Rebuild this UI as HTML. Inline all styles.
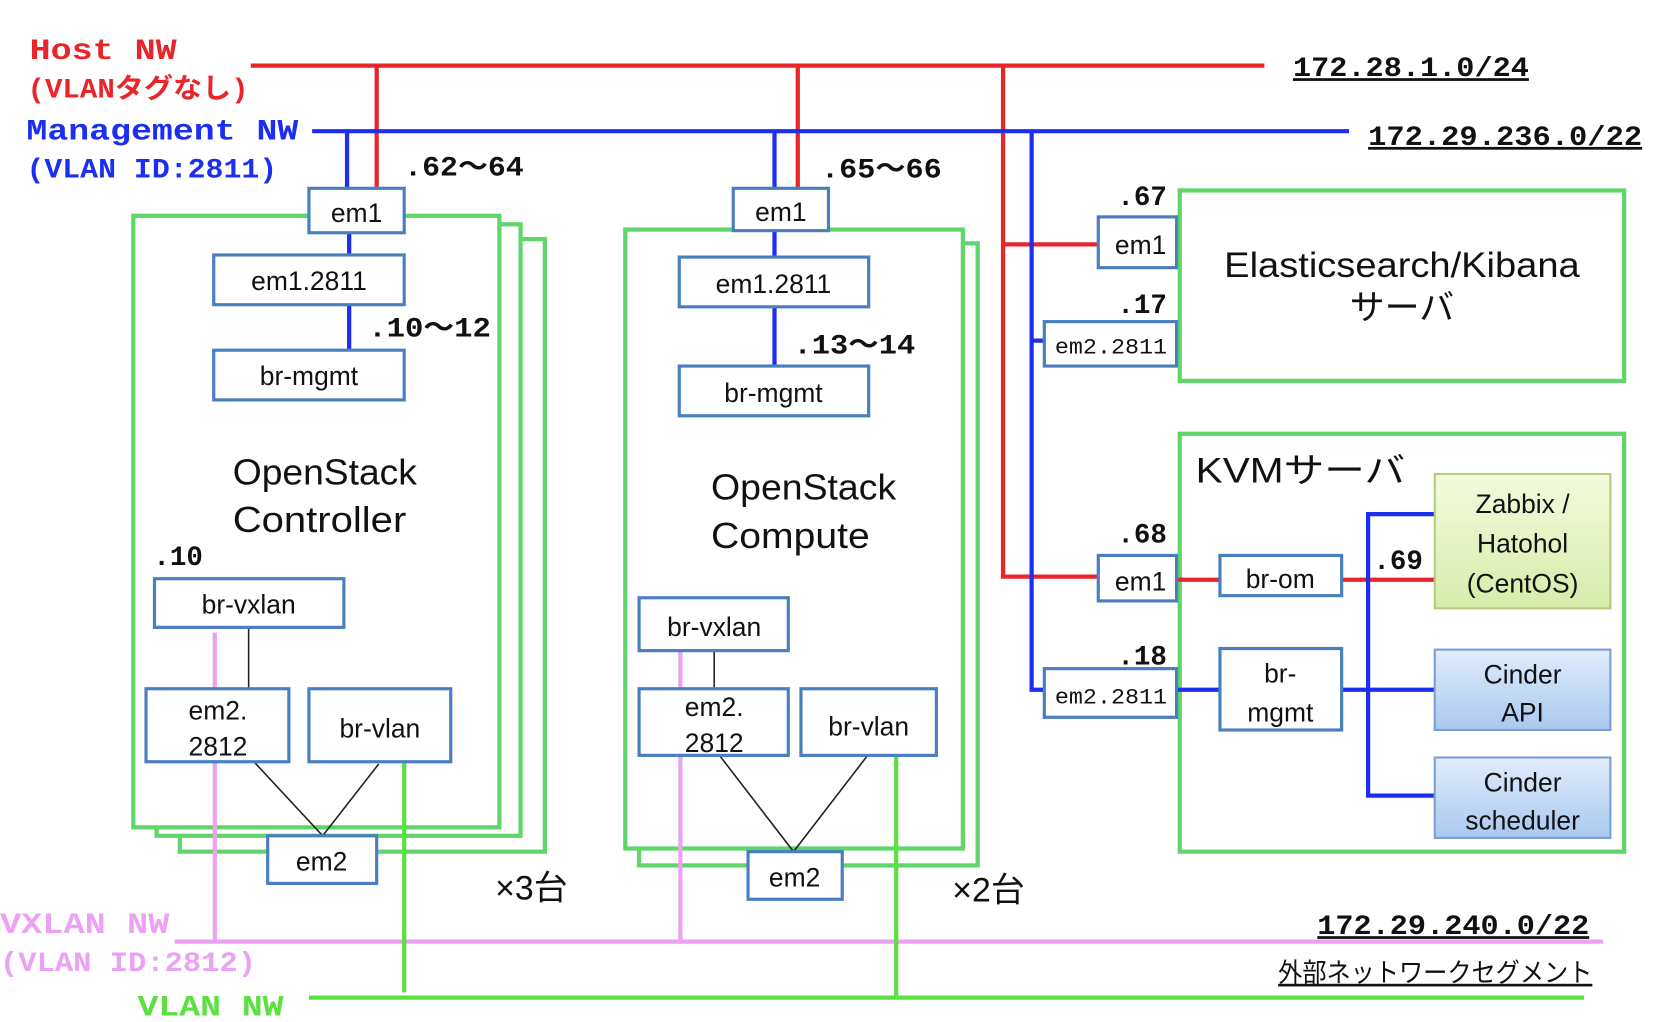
<!DOCTYPE html>
<html><head><meta charset="utf-8"><style>
html,body{margin:0;padding:0;background:#fff;}
svg{display:block;}
text{font-family:"Liberation Sans","Noto Sans CJK JP",sans-serif;}
.m{font-family:"Liberation Mono","Noto Sans CJK JP",monospace;font-weight:bold;}
.n{fill:#fff;stroke:#4a7fbf;stroke-width:3;}
.g{fill:#fff;stroke:#5fd66a;stroke-width:4;}
.lb{font-size:25px;fill:#111;text-anchor:middle;}
</style></head><body>
<svg width="1658" height="1022" viewBox="0 0 1567 966" preserveAspectRatio="none" xmlns="http://www.w3.org/2000/svg">
<defs>
<linearGradient id="gz" x1="0" y1="0" x2="0" y2="1"><stop offset="0" stop-color="#f4fadc"/><stop offset="1" stop-color="#d6ecaa"/></linearGradient>
<linearGradient id="gb" x1="0" y1="0" x2="0" y2="1"><stop offset="0" stop-color="#e2ecfa"/><stop offset="1" stop-color="#a9c8f0"/></linearGradient>
</defs>
<!-- network labels -->
<text class="m" x="28" y="56" font-size="28" fill="#e8262a" textLength="139" lengthAdjust="spacingAndGlyphs">Host NW</text>
<text class="m" x="26" y="92" font-size="26" fill="#e8262a" textLength="209" lengthAdjust="spacingAndGlyphs">(VLANタグなし)</text>
<text class="m" x="25" y="132" font-size="28" fill="#1c2ef0" textLength="257" lengthAdjust="spacingAndGlyphs">Management NW</text>
<text class="m" x="25" y="168" font-size="26" fill="#1c2ef0" textLength="237" lengthAdjust="spacingAndGlyphs">(VLAN ID:2811)</text>
<text class="m" x="0" y="882" font-size="28" fill="#eba2f2" textLength="160" lengthAdjust="spacingAndGlyphs">VXLAN NW</text>
<text class="m" x="0" y="918" font-size="26" fill="#eba2f2" textLength="242" lengthAdjust="spacingAndGlyphs">(VLAN ID:2812)</text>
<text class="m" x="130" y="960" font-size="28" fill="#5ce040" textLength="138" lengthAdjust="spacingAndGlyphs">VLAN NW</text>
<text class="m" x="1222" y="72" font-size="26" fill="#111" text-decoration="underline" textLength="223" lengthAdjust="spacingAndGlyphs">172.28.1.0/24</text>
<text class="m" x="1293" y="137" font-size="26" fill="#111" text-decoration="underline" textLength="259" lengthAdjust="spacingAndGlyphs">172.29.236.0/22</text>
<text class="m" x="1245" y="883" font-size="26" fill="#111" text-decoration="underline" textLength="257" lengthAdjust="spacingAndGlyphs">172.29.240.0/22</text>
<text x="1208" y="928" font-size="25" fill="#111" text-decoration="underline" textLength="297" lengthAdjust="spacingAndGlyphs">外部ネットワークセグメント</text>

<!-- main lines -->
<g stroke-width="4" fill="none">
<path d="M237 62H1195M356 62V178M754 62V178M948 62V545H1038M948 231H1038" stroke="#e8262a"/>
<path d="M295 124H1275M328 124V178M732 124V178M975 124V652H987M975 322H987" stroke="#1c2ef0"/>
</g>

<!-- controller stack -->
<rect class="g" x="170" y="226" width="345" height="579"/>
<rect class="g" x="148" y="212" width="344" height="578"/>
<rect class="g" x="126" y="204" width="346" height="578"/>
<!-- compute stack -->
<rect class="g" x="604" y="230" width="320" height="588"/>
<rect class="g" x="591" y="217" width="319" height="585"/>
<!-- ES / KVM -->
<rect class="g" x="1115" y="180" width="420" height="180"/>
<rect class="g" x="1115" y="410" width="420" height="395"/>

<!-- inner links -->
<g stroke-width="4" fill="none">
<path d="M330 220V331M732 218V346" stroke="#1c2ef0"/>
<path d="M203 598V890M643 615V890M165 890H1515" stroke="#eba2f2"/>
<path d="M382 720V938M847 714V943M292 943H1497" stroke="#5ce040"/>
<path d="M1112 548H1356" stroke="#e8262a"/>
<path d="M1112 652H1356M1356 486H1293V752H1356" stroke="#1c2ef0"/>
</g>
<g stroke="#222" stroke-width="1.5" fill="none">
<path d="M235 593V651M240 720L305 790L358 722M675 615V651M680 714L750 805L820 714"/>
</g>

<!-- controller nodes -->
<rect class="n" x="292" y="178" width="90" height="42"/><text class="lb" x="337" y="210">em1</text>
<rect class="n" x="202" y="241" width="180" height="47"/><text class="lb" x="292" y="274">em1.2811</text>
<rect class="n" x="202" y="331" width="180" height="47"/><text class="lb" x="292" y="364">br-mgmt</text>
<rect class="n" x="146" y="547" width="179" height="46"/><text class="lb" x="235" y="580">br-vxlan</text>
<rect class="n" x="138" y="651" width="135" height="69"/><text class="lb" x="206" y="680">em2.</text><text class="lb" x="206" y="714">2812</text>
<rect class="n" x="292" y="651" width="134" height="69"/><text class="lb" x="359" y="697">br-vlan</text>
<rect class="n" x="253" y="790" width="103" height="45"/><text class="lb" x="304" y="823">em2</text>
<text x="220" y="458" font-size="34" fill="#111" textLength="174" lengthAdjust="spacingAndGlyphs">OpenStack</text>
<text x="220" y="503" font-size="34" fill="#111" textLength="164" lengthAdjust="spacingAndGlyphs">Controller</text>

<!-- compute nodes -->
<rect class="n" x="693" y="178" width="90" height="40"/><text class="lb" x="738" y="209">em1</text>
<rect class="n" x="642" y="243" width="179" height="47"/><text class="lb" x="731" y="277">em1.2811</text>
<rect class="n" x="642" y="346" width="179" height="47"/><text class="lb" x="731" y="380">br-mgmt</text>
<rect class="n" x="604" y="565" width="141" height="50"/><text class="lb" x="675" y="601">br-vxlan</text>
<rect class="n" x="604" y="651" width="141" height="63"/><text class="lb" x="675" y="677">em2.</text><text class="lb" x="675" y="711">2812</text>
<rect class="n" x="757" y="651" width="128" height="63"/><text class="lb" x="821" y="695">br-vlan</text>
<rect class="n" x="707" y="805" width="89" height="45"/><text class="lb" x="751" y="838">em2</text>
<text x="672" y="472" font-size="34" fill="#111" textLength="175" lengthAdjust="spacingAndGlyphs">OpenStack</text>
<text x="672" y="518" font-size="34" fill="#111" textLength="150" lengthAdjust="spacingAndGlyphs">Compute</text>

<!-- address labels -->
<text class="m" x="382" y="166" font-size="26" fill="#111" textLength="113" lengthAdjust="spacingAndGlyphs">.62〜64</text>
<text class="m" x="348" y="318" font-size="26" fill="#111" textLength="116" lengthAdjust="spacingAndGlyphs">.10〜12</text>
<text class="m" x="145" y="534" font-size="26" fill="#111">.10</text>
<text class="m" x="776" y="168" font-size="26" fill="#111" textLength="114" lengthAdjust="spacingAndGlyphs">.65〜66</text>
<text class="m" x="750" y="334" font-size="26" fill="#111" textLength="115" lengthAdjust="spacingAndGlyphs">.13〜14</text>
<text class="m" x="1056" y="194" font-size="26" fill="#111">.67</text>
<text class="m" x="1056" y="296" font-size="26" fill="#111">.17</text>
<text class="m" x="1056" y="513" font-size="26" fill="#111">.68</text>
<text class="m" x="1056" y="628" font-size="26" fill="#111">.18</text>
<text class="m" x="1298" y="538" font-size="26" fill="#111">.69</text>
<text x="468" y="850" font-size="32" fill="#111">×3台</text>
<text x="900" y="852" font-size="32" fill="#111">×2台</text>

<!-- ES -->
<rect class="n" x="1038" y="205" width="74" height="48"/><text class="lb" x="1078" y="240">em1</text>
<rect class="n" x="987" y="304" width="125" height="42"/><text x="1050" y="334" font-size="21" fill="#111" text-anchor="middle" style="font-family:'Liberation Mono',monospace" textLength="106" lengthAdjust="spacingAndGlyphs">em2.2811</text>
<text x="1325" y="262" font-size="33" fill="#111" text-anchor="middle" textLength="336" lengthAdjust="spacingAndGlyphs">Elasticsearch/Kibana</text>
<text x="1325" y="302" font-size="33" fill="#111" text-anchor="middle">サーバ</text>

<!-- KVM -->
<text x="1130" y="456" font-size="33" fill="#111" textLength="198" lengthAdjust="spacingAndGlyphs">KVMサーバ</text>
<rect class="n" x="1038" y="525" width="74" height="43"/><text class="lb" x="1078" y="558">em1</text>
<rect class="n" x="987" y="632" width="125" height="46"/><text x="1050" y="665" font-size="21" fill="#111" text-anchor="middle" style="font-family:'Liberation Mono',monospace" textLength="106" lengthAdjust="spacingAndGlyphs">em2.2811</text>
<rect class="n" x="1153" y="525" width="115" height="38"/><text class="lb" x="1210" y="556">br-om</text>
<rect class="n" x="1153" y="613" width="115" height="77"/><text class="lb" x="1210" y="645">br-</text><text class="lb" x="1210" y="682">mgmt</text>
<rect x="1356" y="448" width="166" height="127" fill="url(#gz)" stroke="#b4cc80" stroke-width="2"/>
<text class="lb" x="1439" y="485">Zabbix /</text><text class="lb" x="1439" y="522">Hatohol</text><text class="lb" x="1439" y="560">(CentOS)</text>
<rect x="1356" y="614" width="166" height="76" fill="url(#gb)" stroke="#7ba0d0" stroke-width="2"/>
<text class="lb" x="1439" y="646">Cinder</text><text class="lb" x="1439" y="682">API</text>
<rect x="1356" y="716" width="166" height="76" fill="url(#gb)" stroke="#7ba0d0" stroke-width="2"/>
<text class="lb" x="1439" y="748">Cinder</text><text class="lb" x="1439" y="784">scheduler</text>
</svg>
</body></html>
